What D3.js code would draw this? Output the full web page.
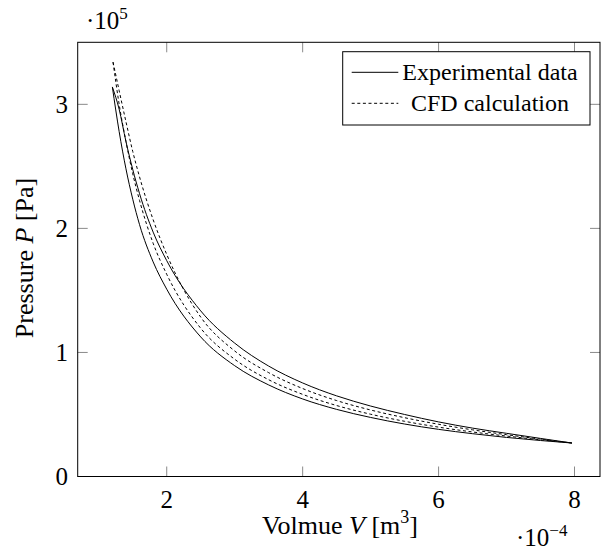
<!DOCTYPE html>
<html>
<head>
<meta charset="utf-8">
<script src="https://cdn.jsdelivr.net/npm/d3@7"></script>
<style>
  html, body { margin: 0; padding: 0; background: #fff; }
</style>
</head>
<body>
<svg id="chart" width="608" height="550"></svg>
<script>
// ---- Data (V in 1e-4 m^3, P in 1e5 Pa) ----
const expVolumes   = [1.2, 1.3, 1.4, 1.5, 1.6, 1.8, 2.0, 2.5, 3.0, 3.5, 4.0, 4.5, 5.0, 5.5, 6.0, 6.5, 7.0, 7.5, 7.96];
const expLowerP    = [3.14, 2.78, 2.48, 2.235, 2.03, 1.73, 1.51, 1.125, 0.893, 0.738, 0.625, 0.541, 0.476, 0.423, 0.38, 0.345, 0.315, 0.29, 0.27];
const expUpperP    = [3.14, 2.96, 2.70, 2.475, 2.28, 1.97, 1.74, 1.335, 1.075, 0.89, 0.754, 0.65, 0.568, 0.5, 0.44, 0.39, 0.348, 0.307, 0.27];
const cfdVolumes   = [1.21, 1.3, 1.4, 1.5, 1.6, 1.8, 2.0, 2.5, 3.0, 3.5, 4.0, 4.5, 5.0, 5.5, 6.0, 6.5, 7.0, 7.5, 7.96];
const cfdLowerP    = [3.34, 3.0, 2.70, 2.44, 2.225, 1.88, 1.63, 1.195, 0.945, 0.78, 0.662, 0.572, 0.502, 0.445, 0.398, 0.359, 0.326, 0.296, 0.27];
const cfdUpperP    = [3.34, 3.11, 2.86, 2.62, 2.415, 2.07, 1.79, 1.285, 1.012, 0.837, 0.709, 0.612, 0.536, 0.474, 0.421, 0.376, 0.337, 0.301, 0.27];
const xTicks = [2, 4, 6, 8];
const yTicks = [0, 1, 2, 3];
const seriesNames = ["Experimental data", "CFD calculation"];

// ---- Layout ----
const FONT = "'Liberation Serif', 'Times New Roman', Tinos, serif";
const svg = d3.select("#chart");
const L = 77.7, R = 600, T = 42.3, B = 476.5;
const x = d3.scaleLinear().domain([0.69, 8.375]).range([L, R]);
const y = d3.scaleLinear().domain([0, 3.5]).range([B, T]);
const tickLen = 10, tickColor = "#8a8a8a";

// ticks (inward, both sides)
const g = svg.append("g");
g.selectAll(".xtb").data(xTicks).join("line")
  .attr("x1", d => x(d)).attr("x2", d => x(d)).attr("y1", B).attr("y2", B - tickLen)
  .attr("stroke", tickColor).attr("stroke-width", 1);
g.selectAll(".xtt").data(xTicks).join("line")
  .attr("x1", d => x(d)).attr("x2", d => x(d)).attr("y1", T).attr("y2", T + tickLen)
  .attr("stroke", tickColor).attr("stroke-width", 1);
g.selectAll(".ytl").data(yTicks).join("line")
  .attr("x1", L).attr("x2", L + tickLen).attr("y1", d => y(d)).attr("y2", d => y(d))
  .attr("stroke", tickColor).attr("stroke-width", 1);
g.selectAll(".ytr").data(yTicks).join("line")
  .attr("x1", R).attr("x2", R - tickLen).attr("y1", d => y(d)).attr("y2", d => y(d))
  .attr("stroke", tickColor).attr("stroke-width", 1);

// curves
const line = d3.line().x(d => x(d[0])).y(d => y(d[1])).curve(d3.curveMonotoneX);
const branches = [
  { v: expVolumes, p: expLowerP, dash: null },
  { v: expVolumes, p: expUpperP, dash: null },
  { v: cfdVolumes, p: cfdLowerP, dash: "3,2.6" },
  { v: cfdVolumes, p: cfdUpperP, dash: "3,2.6" }
];
branches.forEach(b => {
  svg.append("path")
    .attr("d", line(b.v.map((v, i) => [v, b.p[i]])))
    .attr("fill", "none").attr("stroke", "#000").attr("stroke-width", 1)
    .attr("stroke-dasharray", b.dash);
});

// frame
svg.append("rect").attr("x", L).attr("y", T).attr("width", R - L).attr("height", B - T)
  .attr("fill", "none").attr("stroke", "#000").attr("stroke-width", 1);

function txt(sel) { return sel.attr("font-family", FONT).attr("fill", "#000"); }

// tick labels
txt(svg.selectAll(".xl").data(xTicks).join("text"))
  .attr("x", d => x(d)).attr("y", 508).attr("text-anchor", "middle")
  .attr("font-size", 25).text(d => d);
txt(svg.selectAll(".yl").data(yTicks).join("text"))
  .attr("x", 68).attr("y", d => y(d) + 8.5).attr("text-anchor", "end")
  .attr("font-size", 25).text(d => d);

// exponent labels
const e5 = txt(svg.append("text")).attr("x", 86).attr("y", 29).attr("font-size", 25);
e5.append("tspan").text("·10");
e5.append("tspan").attr("font-size", 17).attr("dy", -10).text("5");
const e4 = txt(svg.append("text")).attr("x", 516).attr("y", 546).attr("font-size", 25);
e4.append("tspan").text("·10");
e4.append("tspan").attr("font-size", 17).attr("dy", -10).text("−4");

// axis labels
const xl = txt(svg.append("text")).attr("x", 340).attr("y", 534)
  .attr("text-anchor", "middle").attr("font-size", 26);
xl.append("tspan").text("Volmue ");
xl.append("tspan").attr("font-style", "italic").text("V");
xl.append("tspan").text(" [m");
xl.append("tspan").attr("font-size", 18).attr("dy", -11).text("3");
xl.append("tspan").attr("dy", 11).text("]");

const yl = txt(svg.append("text")).attr("transform", `translate(33,258) rotate(-90)`)
  .attr("text-anchor", "middle").attr("font-size", 26);
yl.append("tspan").text("Pressure ");
yl.append("tspan").attr("font-style", "italic").text("P");
yl.append("tspan").text(" [Pa]");

// legend
const lg = svg.append("g");
lg.append("rect").attr("x", 342.7).attr("y", 51.7).attr("width", 247.3).attr("height", 73.3)
  .attr("fill", "#fff").attr("stroke", "#000").attr("stroke-width", 1);
const rows = [{ yy: 72.3, dash: null, tx: 490, ty: 80 }, { yy: 103.3, dash: "3,2.6", tx: 490, ty: 111 }];
rows.forEach((r, i) => {
  lg.append("line").attr("x1", 351.7).attr("x2", 398.3).attr("y1", r.yy).attr("y2", r.yy)
    .attr("stroke", "#000").attr("stroke-width", 1).attr("stroke-dasharray", r.dash);
  txt(lg.append("text")).attr("x", r.tx).attr("y", r.ty).attr("text-anchor", "middle")
    .attr("font-size", 24).text(seriesNames[i]);
});
</script>
</body>
</html>
